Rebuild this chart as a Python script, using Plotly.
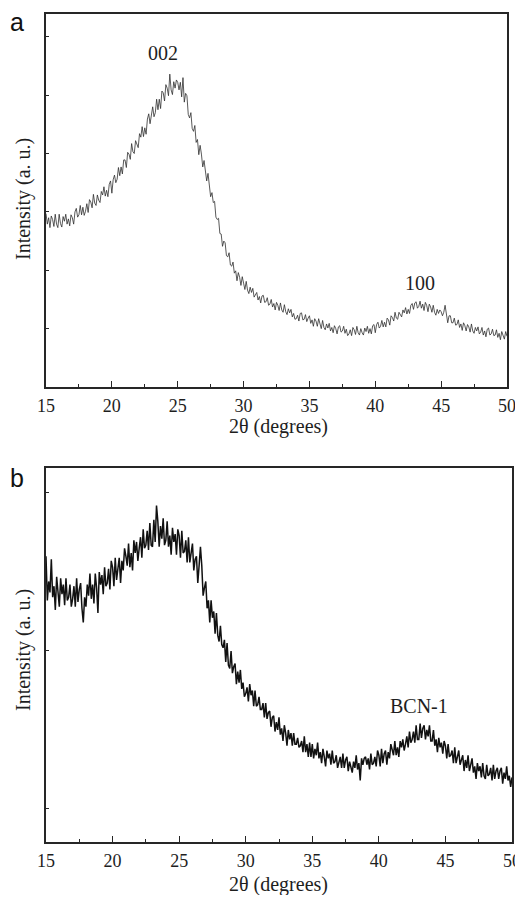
import numpy as np
import plotly.graph_objects as go

# 2-theta sampling positions (degrees), 0.1 deg step
two_theta = np.round(np.arange(15.0, 50.0001, 0.1), 1)

# Panel a intensity (arbitrary units)
intensity_a = [
    2.97, 2.79, 2.90, 2.73, 2.93, 2.87, 2.75, 2.96, 2.79, 2.73,
    2.96, 2.80, 2.74, 2.92, 2.84, 2.96, 2.79, 2.88, 2.76, 2.95,
    2.90, 2.79, 3.00, 3.06, 2.91, 2.95, 3.11, 2.95, 3.08, 2.94,
    3.01, 3.14, 2.99, 3.21, 3.17, 3.07, 3.30, 3.15, 3.11, 3.29,
    3.20, 3.16, 3.35, 3.29, 3.43, 3.27, 3.37, 3.26, 3.47, 3.53,
    3.32, 3.55, 3.63, 3.50, 3.56, 3.76, 3.62, 3.77, 3.65, 3.89,
    3.89, 3.76, 4.02, 3.99, 3.90, 4.17, 4.03, 4.00, 4.22, 4.16,
    4.10, 4.34, 4.28, 4.46, 4.29, 4.44, 4.33, 4.59, 4.68, 4.51,
    4.71, 4.80, 4.63, 4.70, 4.93, 4.75, 4.93, 4.77, 5.07, 5.04,
    4.90, 5.18, 5.12, 4.99, 5.36, 5.09, 5.01, 5.23, 5.12, 5.26,
    5.22, 5.09, 5.22, 4.97, 5.30, 4.88, 5.03, 4.99, 4.67, 4.61,
    4.70, 4.43, 4.38, 4.48, 4.19, 4.24, 3.98, 4.14, 3.99, 3.77,
    3.88, 3.73, 3.53, 3.66, 3.41, 3.26, 3.33, 3.16, 3.18, 2.91,
    2.87, 2.89, 2.63, 2.62, 2.41, 2.50, 2.47, 2.25, 2.23, 2.30,
    2.09, 2.07, 2.14, 1.95, 1.99, 1.82, 1.96, 1.88, 1.74, 1.89,
    1.78, 1.67, 1.81, 1.66, 1.60, 1.71, 1.62, 1.69, 1.54, 1.59,
    1.62, 1.49, 1.55, 1.44, 1.56, 1.57, 1.45, 1.46, 1.53, 1.40,
    1.42, 1.50, 1.37, 1.43, 1.32, 1.45, 1.40, 1.31, 1.44, 1.32,
    1.28, 1.41, 1.29, 1.24, 1.34, 1.27, 1.33, 1.20, 1.26, 1.16,
    1.17, 1.23, 1.13, 1.26, 1.27, 1.15, 1.16, 1.24, 1.12, 1.18,
    1.22, 1.09, 1.15, 1.04, 1.17, 1.13, 1.04, 1.17, 1.05, 1.00,
    1.14, 1.02, 0.98, 1.08, 1.01, 1.09, 0.96, 1.02, 0.93, 1.05,
    1.00, 0.91, 1.03, 1.05, 0.94, 0.96, 1.04, 0.92, 0.99, 0.88,
    0.91, 0.98, 0.88, 1.02, 0.98, 0.90, 1.04, 0.93, 0.89, 1.00,
    0.93, 0.89, 1.01, 0.95, 1.04, 0.92, 1.00, 0.91, 1.05, 1.07,
    0.93, 1.07, 1.11, 1.01, 1.04, 1.14, 1.03, 1.11, 1.03, 1.18,
    1.15, 1.06, 1.22, 1.19, 1.13, 1.28, 1.18, 1.16, 1.28, 1.24,
    1.20, 1.32, 1.27, 1.36, 1.25, 1.33, 1.26, 1.40, 1.43, 1.33,
    1.44, 1.46, 1.35, 1.38, 1.47, 1.35, 1.42, 1.31, 1.45, 1.40,
    1.29, 1.42, 1.37, 1.28, 1.40, 1.28, 1.23, 1.33, 1.26, 1.32,
    1.29, 1.22, 1.28, 1.40, 1.20, 1.10, 1.22, 1.22, 1.10, 1.10,
    1.18, 1.06, 1.07, 1.15, 1.02, 1.08, 0.97, 1.10, 1.05, 0.96,
    1.07, 1.03, 0.94, 1.08, 0.96, 0.92, 1.02, 0.96, 1.03, 0.91,
    0.94, 1.02, 0.89, 0.96, 0.86, 0.99, 1.01, 0.89, 0.91, 0.99,
    0.88, 0.89, 0.98, 0.85, 0.92, 0.81, 0.95, 0.90, 0.82, 0.95,
    0.87,
]

# Panel b intensity (arbitrary units)
intensity_b = [
    1.60, 1.32, 1.44, 1.37, 1.58, 1.34, 1.41, 1.26, 1.47, 1.37,
    1.28, 1.46, 1.36, 1.42, 1.29, 1.46, 1.32, 1.34, 1.42, 1.28,
    1.33, 1.41, 1.28, 1.46, 1.31, 1.39, 1.43, 1.27, 1.18, 1.34,
    1.28, 1.42, 1.35, 1.49, 1.33, 1.42, 1.30, 1.49, 1.40, 1.24,
    1.50, 1.42, 1.48, 1.36, 1.53, 1.41, 1.43, 1.52, 1.39, 1.57,
    1.53, 1.41, 1.59, 1.45, 1.54, 1.59, 1.43, 1.57, 1.51, 1.65,
    1.60, 1.54, 1.68, 1.53, 1.62, 1.51, 1.70, 1.62, 1.69, 1.57,
    1.65, 1.72, 1.59, 1.77, 1.65, 1.67, 1.76, 1.64, 1.81, 1.67,
    1.66, 1.83, 1.69, 1.92, 1.82, 1.66, 1.79, 1.71, 1.84, 1.67,
    1.70, 1.82, 1.66, 1.73, 1.61, 1.78, 1.69, 1.74, 1.61, 1.77,
    1.73, 1.59, 1.76, 1.62, 1.63, 1.70, 1.56, 1.72, 1.56, 1.62,
    1.68, 1.51, 1.58, 1.60, 1.43, 1.54, 1.66, 1.54, 1.35, 1.40,
    1.44, 1.27, 1.32, 1.18, 1.32, 1.21, 1.25, 1.11, 1.24, 1.10,
    1.06, 1.16, 1.04, 1.02, 1.07, 0.93, 1.05, 0.91, 0.89, 1.00,
    0.86, 0.90, 0.92, 0.79, 0.87, 0.80, 0.88, 0.76, 0.80, 0.71,
    0.73, 0.77, 0.68, 0.79, 0.72, 0.75, 0.65, 0.75, 0.65, 0.66,
    0.71, 0.63, 0.63, 0.67, 0.58, 0.67, 0.57, 0.61, 0.62, 0.52,
    0.58, 0.59, 0.49, 0.55, 0.50, 0.58, 0.47, 0.51, 0.43, 0.53,
    0.48, 0.40, 0.50, 0.44, 0.48, 0.40, 0.48, 0.41, 0.41, 0.45,
    0.39, 0.40, 0.43, 0.36, 0.46, 0.36, 0.41, 0.33, 0.42, 0.33,
    0.41, 0.32, 0.38, 0.34, 0.42, 0.32, 0.36, 0.29, 0.38, 0.33,
    0.27, 0.37, 0.32, 0.35, 0.28, 0.37, 0.29, 0.30, 0.34, 0.26,
    0.29, 0.33, 0.26, 0.35, 0.26, 0.31, 0.33, 0.24, 0.30, 0.26,
    0.23, 0.30, 0.26, 0.34, 0.25, 0.29, 0.18, 0.32, 0.28, 0.32,
    0.33, 0.28, 0.32, 0.25, 0.35, 0.28, 0.29, 0.33, 0.27, 0.37,
    0.34, 0.27, 0.38, 0.29, 0.35, 0.37, 0.28, 0.36, 0.32, 0.41,
    0.37, 0.34, 0.43, 0.34, 0.39, 0.33, 0.43, 0.39, 0.44, 0.37,
    0.41, 0.46, 0.39, 0.49, 0.42, 0.44, 0.49, 0.42, 0.53, 0.44,
    0.44, 0.54, 0.45, 0.51, 0.53, 0.44, 0.50, 0.46, 0.53, 0.43,
    0.43, 0.50, 0.40, 0.44, 0.36, 0.45, 0.39, 0.42, 0.35, 0.43,
    0.40, 0.32, 0.41, 0.33, 0.34, 0.37, 0.29, 0.39, 0.29, 0.34,
    0.37, 0.28, 0.32, 0.34, 0.24, 0.31, 0.26, 0.34, 0.24, 0.28,
    0.32, 0.23, 0.27, 0.19, 0.29, 0.24, 0.27, 0.20, 0.29, 0.21,
    0.19, 0.28, 0.21, 0.22, 0.26, 0.18, 0.28, 0.19, 0.24, 0.26,
    0.19, 0.24, 0.26, 0.16, 0.23, 0.19, 0.27, 0.18, 0.21, 0.14,
    0.20,
]

x_tick_vals = [15, 20, 25, 30, 35, 40, 45, 50]
x_tick_text = ["15", "20", "25", "30", "35", "40", "45", "50"]
y_ticks_a = [0, 1, 2, 3, 4, 5, 6]
y_ticks_b = [0, 1, 2]
x_title = "2θ (degrees)"
y_title = "Intensity (a. u.)"
peak_labels_a = [("002", 23.9, 5.72), ("100", 43.4, 1.78)]
peak_labels_b = [("BCN-1", 43.0, 0.65)]
panel_letters = ["a", "b"]

# The page body has an 8px default margin: the figure is sized so the page
# stays inside the 523x903 window, and page-pixel targets are shifted.
OFF = 8
W, H = 523 - OFF, 903 - 2 * OFF

def px(x):
    return (x - OFF) / W

def py(y):
    return 1 - (y - OFF) / H

serif = "Liberation Serif"
sans = "Liberation Sans"
axcol = "#262626"
txtcol = "#1e1e1e"

fig = go.Figure()
fig.add_trace(go.Scatter(x=two_theta, y=intensity_a, mode="lines",
                         line=dict(color="#2e2e2e", width=0.8),
                         xaxis="x", yaxis="y", showlegend=False))
fig.add_trace(go.Scatter(x=two_theta, y=intensity_b, mode="lines",
                         line=dict(color="#111111", width=1.5),
                         xaxis="x2", yaxis="y2", showlegend=False))

def xaxis_cfg(domain, anchor):
    return dict(domain=domain, anchor=anchor, range=[15, 50], showline=True, mirror=True,
                linecolor=axcol, linewidth=1.6, ticks="inside", ticklen=6,
                tickwidth=1.2, tickcolor=axcol, tickvals=x_tick_vals,
                ticktext=x_tick_text, showgrid=False, zeroline=False, automargin=False,
                ticklabelstandoff=2, ticklabeloverflow="allow",
                tickfont=dict(family=serif, size=18, color=txtcol),
                minor=dict(ticks="inside", ticklen=3, tickwidth=1.0,
                           tickcolor=axcol, dtick=2.5, tick0=15, showgrid=False))

def yaxis_cfg(domain, anchor, rng, tv):
    return dict(domain=domain, anchor=anchor, range=rng, showline=True, mirror=True,
                linecolor=axcol, linewidth=1.6, ticks="inside", ticklen=3,
                tickwidth=1.0, tickcolor=axcol, tickvals=tv, showticklabels=False,
                showgrid=False, zeroline=False, automargin=False)

fig.update_layout(
    width=W, height=H, margin=dict(l=0, r=0, t=0, b=0, autoexpand=False),
    paper_bgcolor="white", plot_bgcolor="white",
    xaxis=xaxis_cfg([px(46), px(507)], "y"),
    yaxis=yaxis_cfg([py(387), py(14)], "x", [0, 6.39], y_ticks_a),
    xaxis2=xaxis_cfg([px(46), px(512)], "y2"),
    yaxis2=yaxis_cfg([py(842), py(468)], "x2", [-0.209, 2.158], y_ticks_b),
)

for txt, xv, yv in peak_labels_a:
    fig.add_annotation(x=xv, y=yv, xref="x", yref="y", text=txt, showarrow=False,
                       xanchor="center", yanchor="middle",
                       font=dict(family=serif, size=20, color=txtcol))
for txt, xv, yv in peak_labels_b:
    fig.add_annotation(x=xv, y=yv, xref="x2", yref="y2", text=txt, showarrow=False,
                       xanchor="center", yanchor="middle",
                       font=dict(family=serif, size=20, color=txtcol))

# axis titles (x titles below each panel, y titles rotated)
for cx, cy in [(278, 427), (278, 884)]:
    fig.add_annotation(x=px(cx), y=py(cy), xref="paper", yref="paper", text=x_title,
                       xanchor="center", yanchor="middle",
                       showarrow=False, font=dict(family=serif, size=20, color=txtcol))
for cx, cy in [(23, 199), (23, 650)]:
    fig.add_annotation(x=px(cx), y=py(cy), xref="paper", yref="paper", text=y_title,
                       textangle=-90, xanchor="center", yanchor="middle", showarrow=False,
                       font=dict(family=serif, size=20, color=txtcol))

for letter, (cx, cy) in zip(panel_letters, [(17, 22), (17, 478)]):
    fig.add_annotation(x=px(cx), y=py(cy), xref="paper", yref="paper", text=letter,
                       xanchor="center", yanchor="middle",
                       showarrow=False, font=dict(family=sans, size=25, color="#111"))

fig.write_html("out.html")
